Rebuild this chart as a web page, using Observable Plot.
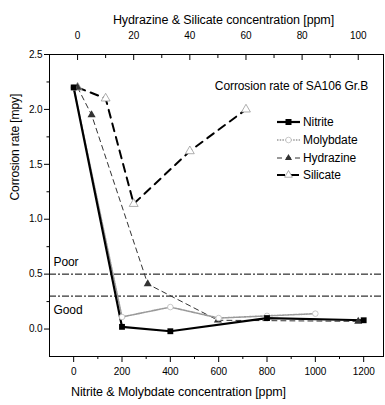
<!DOCTYPE html>
<html><head><meta charset="utf-8">
<script src="https://cdn.jsdelivr.net/npm/d3@7"></script>
<script src="https://cdn.jsdelivr.net/npm/@observablehq/plot@0.6"></script>
<style>
body{margin:0;background:#fff;}
#chart svg{font-family:"Liberation Sans",Arial,sans-serif;overflow:visible;}
#chart svg text{letter-spacing:-0.1px;}
</style></head><body><div id="chart"></div>
<script>
// ---- data ----
const bottomTicks = [0, 200, 400, 600, 800, 1000, 1200];
const bottomMinor = [100, 300, 500, 700, 900, 1100];
const topTicks = [0, 20, 40, 60, 80, 100];
const topMinor = [10, 30, 50, 70, 90];
const yTicks = [0, 0.5, 1, 1.5, 2, 2.5];
const yMinor = [0.25, 0.75, 1.25, 1.75, 2.25];

const nitriteX = [0, 200, 400, 800, 1200];
const nitriteY = [2.2, 0.02, -0.02, 0.1, 0.08];
const molybdateX = [0, 200, 400, 600, 800, 1000];
const molybdateY = [2.2, 0.11, 0.2, 0.1, 0.12, 0.14];
const hydrazineX = [0, 5, 25, 50, 100];   // top axis units
const hydrazineY = [2.2, 1.95, 0.41, 0.08, 0.07];
const silicateX = [0, 10, 20, 40, 60];    // top axis units
const silicateY = [2.2, 2.1, 1.14, 1.62, 2.0];

const thresholds = [0.5, 0.3];
const zoneLabels = ["Poor", "Good"];
const zoneY = [0.61, 0.17];

const bottomDomain = [-100, 1282];
const topDomain = [-10, 109];
const yDomain = [-0.25, 2.5];

const topTitle = "Hydrazine & Silicate concentration [ppm]";
const bottomTitle = "Nitrite & Molybdate concentration [ppm]";
const yTitle = "Corrosion rate [mpy]";
const note = "Corrosion rate of SA106 Gr.B";
const seriesNames = ["Nitrite", "Molybdate", "Hydrazine", "Silicate"];

// ---- build ----
const toBottom = d3.scaleLinear().domain(topDomain).range(bottomDomain);
const rows = (xs, ys, f = d => d) => xs.map((x, i) => ({x: f(x), y: ys[i]}));
const nit = rows(nitriteX, nitriteY);
const mol = rows(molybdateX, molybdateY);
const hyd = rows(hydrazineX, hydrazineY, toBottom);
const sil = rows(silicateX, silicateY, toBottom);

const styles = {
  Nitrite: {stroke: "#000", strokeWidth: 2.2, dash: null},
  Molybdate: {stroke: "#9a9a9a", strokeWidth: 1.6, dash: "1.5,1.2"},
  Hydrazine: {stroke: "#333", strokeWidth: 1, dash: "5,4"},
  Silicate: {stroke: "#000", strokeWidth: 2, dash: "8,6"}
};

const fs = 10;
const chart = Plot.plot({
  width: 385, height: 405,
  marginLeft: 49, marginRight: 2, marginTop: 54, marginBottom: 49,
  style: {fontSize: "10px", color: "#000"},
  x: {domain: bottomDomain, axis: null, label: null},
  y: {domain: yDomain, axis: null, label: null},
  marks: [
    Plot.ruleY(thresholds, {stroke: "#000", strokeWidth: 1, strokeDasharray: "7,2,2,2"}),
    Plot.line(sil, {x: "x", y: "y", stroke: styles.Silicate.stroke, strokeWidth: styles.Silicate.strokeWidth, strokeDasharray: styles.Silicate.dash}),
    Plot.line(hyd, {x: "x", y: "y", stroke: styles.Hydrazine.stroke, strokeWidth: styles.Hydrazine.strokeWidth, strokeDasharray: styles.Hydrazine.dash}),
    Plot.line(mol, {x: "x", y: "y", stroke: styles.Molybdate.stroke, strokeWidth: styles.Molybdate.strokeWidth, strokeDasharray: styles.Molybdate.dash}),
    Plot.line(nit, {x: "x", y: "y", stroke: styles.Nitrite.stroke, strokeWidth: styles.Nitrite.strokeWidth}),
    Plot.dot(sil, {x: "x", y: "y", symbol: "triangle", r: 3.3, stroke: "#999", fill: "#fff", strokeWidth: 0.8}),
    Plot.dot(hyd, {x: "x", y: "y", symbol: "triangle", r: 3, fill: "#333", stroke: "none"}),
    Plot.dot(mol, {x: "x", y: "y", symbol: "circle", r: 2.8, stroke: "#bbb", fill: "#fff", strokeWidth: 0.8}),
    Plot.dot(nit, {x: "x", y: "y", symbol: "square", r: 3.3, fill: "#000", stroke: "none"}),
    Plot.frame({stroke: "#000", strokeWidth: 1}),
    // bottom axis
    Plot.axisX(bottomTicks, {anchor: "bottom", tickSize: 6, tickPadding: 5, fontSize: fs, tickFormat: d => String(d)}),
    Plot.axisX(bottomMinor, {anchor: "bottom", tickSize: 3, text: null}),
    // top axis
    Plot.axisX(topTicks.map(toBottom), {anchor: "top", tickSize: -5, text: null}),
    Plot.axisX(topMinor.map(toBottom), {anchor: "top", tickSize: -3, text: null}),
    Plot.axisX(topTicks.map(toBottom), {anchor: "top", tickSize: 0, tickPadding: 16, fontSize: fs,
      tickFormat: d => String(Math.round(toBottom.invert(d)))}),
    // left axis
    Plot.axisY(yTicks, {anchor: "left", tickSize: 5, tickPadding: 2, fontSize: fs, tickFormat: d3.format(".1f")}),
    Plot.axisY(yMinor, {anchor: "left", tickSize: 2.5, text: null}),
    // titles
    Plot.text([topTitle], {frameAnchor: "top", dx: 7, dy: -39, fontSize: 12.5}),
    Plot.text([bottomTitle], {frameAnchor: "bottom", dx: -38, dy: 39, fontSize: 12.5}),
    Plot.text([yTitle], {frameAnchor: "left", rotate: -90, dx: -34, dy: -5, fontSize: 12}),
    Plot.text([note], {frameAnchor: "top-right", textAnchor: "middle", dx: -92, dy: 27, fontSize: 12}),
    Plot.text(zoneLabels, {x: () => bottomDomain[0], y: (d, i) => zoneY[i], textAnchor: "start", dx: 4, fontSize: 12})
  ]
});
document.getElementById("chart").appendChild(chart);

// ---- legend inside the plot ----
const svg = d3.select(chart);
const lg = svg.append("g").attr("transform", "translate(277,122)").attr("text-anchor", "start");
const markers = {
  Nitrite: g => g.append("rect").attr("x", -3).attr("y", -3).attr("width", 6).attr("height", 6).attr("fill", "#000"),
  Molybdate: g => g.append("circle").attr("r", 2.8).attr("fill", "#fff").attr("stroke", "#bbb").attr("stroke-width", 0.8),
  Hydrazine: g => g.append("path").attr("d", d3.symbol(d3.symbolTriangle, 22)()).attr("fill", "#333"),
  Silicate: g => g.append("path").attr("d", d3.symbol(d3.symbolTriangle, 26)()).attr("fill", "#fff").attr("stroke", "#999").attr("stroke-width", 0.8)
};
const rowGap = [0, 18, 36, 53];
seriesNames.forEach((name, i) => {
  const s = styles[name];
  const g = lg.append("g").attr("transform", `translate(0,${rowGap[i]})`);
  g.append("line").attr("x1", 0).attr("x2", 23).attr("y1", 0).attr("y2", 0)
    .attr("stroke", s.stroke).attr("stroke-width", s.strokeWidth)
    .attr("stroke-dasharray", s.dash);
  markers[name](g.append("g").attr("transform", "translate(11.5,0)"));
  g.append("text").attr("x", 26).attr("y", 0).attr("dy", "0.35em")
    .attr("text-anchor", "start")
    .attr("font-size", 12).attr("fill", "#000").text(name);
});
</script></body></html>
